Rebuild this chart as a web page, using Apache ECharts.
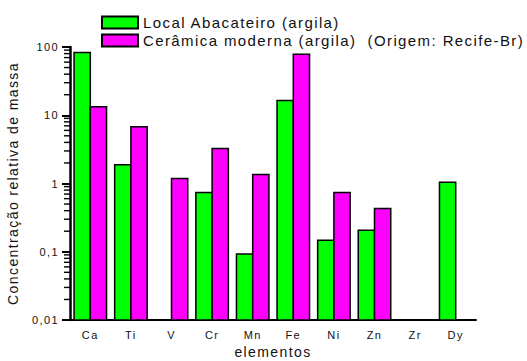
<!DOCTYPE html>
<html>
<head>
<meta charset="utf-8">
<script src="https://cdn.jsdelivr.net/npm/echarts@6/dist/echarts.min.js"></script>
<style>html,body{margin:0;padding:0;background:#fff;}#c{width:527px;height:361px;letter-spacing:1.4px;}</style>
</head>
<body>
<div id="c"></div>
<script>
const categories = ['Ca', 'Ti', 'V', 'Cr', 'Mn', 'Fe', 'Ni', 'Zn', 'Zr', 'Dy'];
const abacateiro = [83, 1.88, null, 0.74, 0.093, 16.5, 0.147, 0.206, null, 1.04];
const ceramica = [13.3, 6.8, 1.18, 3.25, 1.35, 78, 0.74, 0.43, null, null];
const seriesNames = ['Local Abacateiro (argila)', 'Cerâmica moderna (argila)  (Origem: Recife-Br)'];
const seriesColors = ['#00ff00', '#ff00ff'];
const majorTicks = [0.01, 0.1, 1, 10, 100];
const majorTickLabels = ['0,01', '0,1', '1', '10', '100'];
const minorTicks = [0.02,0.03,0.04,0.05,0.06,0.07,0.08,0.09,0.2,0.3,0.4,0.5,0.6,0.7,0.8,0.9,2,3,4,5,6,7,8,9,20,30,40,50,60,70,80,90];

const font = 'Liberation Sans, Arial, sans-serif';
const chart = echarts.init(document.getElementById('c'), null, {renderer: 'svg'});
const labelFor = v => {
  const i = majorTicks.findIndex(t => Math.abs(Math.log10(t) - Math.log10(v)) < 1e-6);
  return i >= 0 ? majorTickLabels[i] : '';
};
const yMin = majorTicks[0], yMax = majorTicks[majorTicks.length - 1];
const barFrac = 0.4; // each bar takes 40% of the category band

function makeRender(side) {
  return function (params, api) {
    const cat = api.value(0), val = api.value(1);
    const top = api.coord([cat, val]);
    const base = api.coord([cat, yMin]);
    const band = api.size([1, 0])[0];
    const w = band * barFrac;
    const x = side === 0 ? top[0] - w : top[0];
    return {
      type: 'rect',
      shape: {x: x, y: top[1], width: w, height: base[1] - top[1]},
      style: {fill: seriesColors[side], stroke: '#000', lineWidth: 1.5}
    };
  };
}
function renderMinorTick(params, api) {
  const p = api.coord([0, api.value(1)]);
  const band = api.size([1, 0])[0];
  const ax = p[0] - band / 2;
  return {
    type: 'rect',
    shape: {x: ax - 6, y: p[1] - 0.7, width: 6, height: 1.4},
    style: {fill: '#000'}
  };
}
const toData = arr => arr.map((v, i) => v == null ? null : [i, v]).filter(d => d);

chart.setOption({
  animation: false,
  backgroundColor: '#fff',
  legend: {
    orient: 'vertical', left: 101, top: 15, itemGap: 3, padding: 0,
    itemWidth: 36, itemHeight: 12,
    icon: 'rect',
    textStyle: {fontFamily: font, fontSize: 15, color: '#111'},
    data: seriesNames.map((n, i) => ({name: n, itemStyle: {color: seriesColors[i], borderColor: '#000', borderWidth: 2}}))
  },
  grid: {left: 70, right: 51, top: 47, bottom: 41, containLabel: false, outerBoundsMode: 'none'},
  xAxis: [{
    type: 'category', data: categories,
    name: 'elementos', nameLocation: 'middle', nameGap: 25,
    nameTextStyle: {fontFamily: font, fontSize: 14, color: '#111'},
    axisLine: {onZero: false, lineStyle: {color: '#000', width: 2}},
    axisTick: {alignWithLabel: true, length: 5, lineStyle: {color: '#000', width: 2}},
    axisLabel: {fontFamily: font, fontSize: 11, color: '#111', margin: 9},
    splitLine: {show: false}
  }, {
    type: 'category', data: categories, position: 'bottom',
    axisLine: {show: false, onZero: false},
    axisTick: {length: 3, lineStyle: {color: '#000', width: 2}},
    axisLabel: {show: false},
    splitLine: {show: false}
  }],
  yAxis: [{
    type: 'log', logBase: 10, min: yMin, max: yMax,
    name: 'Concentração relativa de massa', nameLocation: 'middle', nameGap: 50,
    nameTextStyle: {fontFamily: font, fontSize: 14, color: '#111'},
    axisLine: {show: true, lineStyle: {color: '#000', width: 2.5}},
    axisTick: {show: true, length: 8, lineStyle: {color: '#000', width: 2}},
    axisLabel: {fontFamily: font, fontSize: 11, color: '#111', margin: 11, formatter: labelFor},
    splitLine: {show: false}
  }],
  series: [{
    name: seriesNames[0], type: 'custom', data: toData(abacateiro),
    xAxisIndex: 0, yAxisIndex: 0, renderItem: makeRender(0),
    itemStyle: {color: seriesColors[0]}
  }, {
    name: seriesNames[1], type: 'custom', data: toData(ceramica),
    xAxisIndex: 0, yAxisIndex: 0, renderItem: makeRender(1),
    itemStyle: {color: seriesColors[1]}
  }, {
    name: 'minorTicks', type: 'custom', silent: true, clip: false,
    data: minorTicks.map(v => [0, v]),
    xAxisIndex: 0, yAxisIndex: 0, renderItem: renderMinorTick, z: 5
  }]
});
</script>
</body>
</html>
